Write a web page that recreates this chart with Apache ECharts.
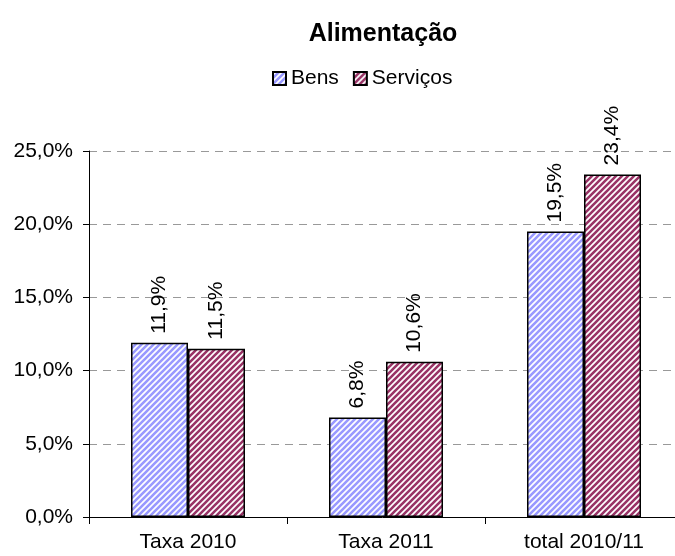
<!DOCTYPE html>
<html>
<head>
<meta charset="utf-8">
<script src="https://cdn.jsdelivr.net/npm/echarts@6/dist/echarts.min.js"></script>
</head>
<body style="margin:0">
<div id="chart" style="width:675px;height:556px"></div>
<script>
const categories = ['Taxa 2010', 'Taxa 2011', 'total 2010/11']
const bens = [11.9, 6.8, 19.5]
const servicos = [11.5, 10.6, 23.4]
const yTicks = [0, 5, 10, 15, 20, 25]

// listras diagonais
function stripes(color) {
  const c = document.createElement('canvas')
  c.width = 6
  c.height = 6
  const ctx = c.getContext('2d')
  ctx.fillStyle = '#ffffff'
  ctx.fillRect(0, 0, 6, 6)
  ctx.strokeStyle = color
  ctx.lineWidth = 2.6
  ctx.beginPath()
  ctx.moveTo(-1, 7); ctx.lineTo(7, -1)
  ctx.moveTo(-4, 4); ctx.lineTo(4, -4)
  ctx.moveTo(2, 10); ctx.lineTo(10, 2)
  ctx.stroke()
  return { image: c, repeat: 'repeat' }
}

const fmt = v => v.toFixed(1).replace('.', ',') + '%'
const font = 'Liberation Sans'

const option = {
  animation: false,
  title: {
    text: 'Alimentação',
    left: 378,
    textAlign: 'center',
    top: 17,
    textStyle: { fontFamily: font, fontSize: 25, fontWeight: 'bold', color: '#000' }
  },
  legend: {
    data: ['Bens', 'Serviços'],
    left: 267,
    top: 63,
    icon: 'rect',
    itemWidth: 13,
    itemHeight: 13,
    itemGap: 14,
    textStyle: { fontFamily: font, fontSize: 21, color: '#000', padding: [0, 0, 0, 0] }
  },
  grid: {
    left: 89,
    width: 594,
    top: 151,
    bottom: 39,
    outerBoundsMode: 'none'
  },
  xAxis: {
    type: 'category',
    data: categories,
    axisLine: { lineStyle: { color: '#000', width: 1 } },
    axisTick: { show: true, length: 7, lineStyle: { color: '#000' } },
    axisLabel: { fontFamily: font, fontSize: 21, color: '#000', margin: 15 }
  },
  yAxis: {
    type: 'value',
    min: 0,
    max: 25,
    interval: 5,
    axisLine: { show: true, lineStyle: { color: '#000', width: 1 } },
    axisTick: { show: true, length: 6, lineStyle: { color: '#000' } },
    axisLabel: {
      fontFamily: font, fontSize: 21, color: '#000', margin: 16,
      formatter: v => yTicks.includes(v) ? fmt(v) : ''
    },
    splitLine: { show: true, lineStyle: { color: '#999', type: [8, 6], width: 1 } }
  },
  series: [
    {
      name: 'Bens',
      type: 'bar',
      data: bens,
      barWidth: 57,
      barGap: '0%',
      itemStyle: { color: stripes('#9999ff'), borderColor: '#000', borderWidth: 1.5 },
      label: {
        show: true, position: 'top', rotate: 90, align: 'left', verticalAlign: 'middle',
        distance: 9, fontFamily: font, fontSize: 21, color: '#000',
        formatter: p => fmt(p.value)
      }
    },
    {
      name: 'Serviços',
      type: 'bar',
      data: servicos,
      barWidth: 57,
      itemStyle: { color: stripes('#993366'), borderColor: '#000', borderWidth: 1.5 },
      label: {
        show: true, position: 'top', rotate: 90, align: 'left', verticalAlign: 'middle',
        distance: 9, fontFamily: font, fontSize: 21, color: '#000',
        formatter: p => fmt(p.value)
      }
    }
  ]
}

const chart = echarts.init(document.getElementById('chart'))
chart.setOption(option)
</script>
</body>
</html>
